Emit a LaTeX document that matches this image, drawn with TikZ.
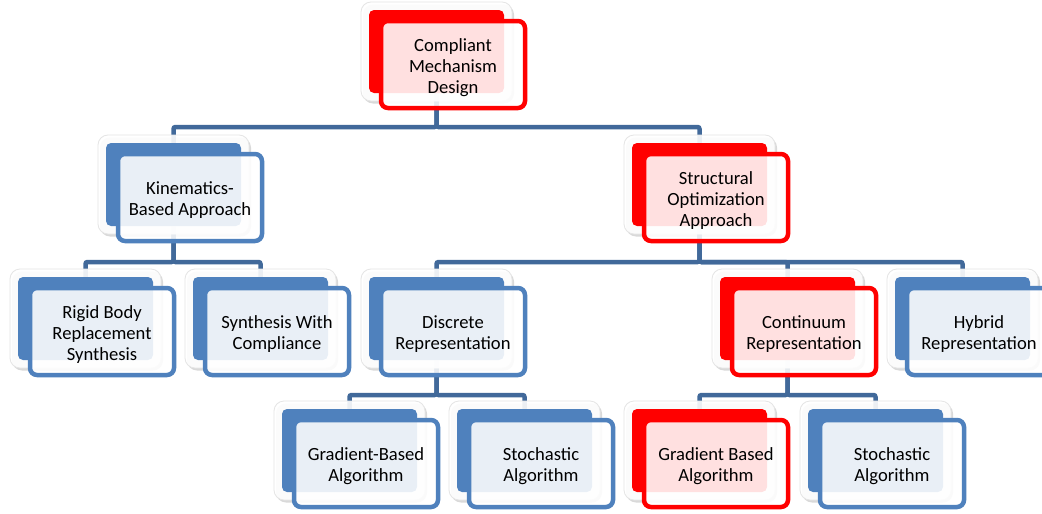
\documentclass[tikz,border=0pt]{standalone}
\usepackage{fontspec}
\setmainfont{Carlito}
\usetikzlibrary{shadows,calc}
\definecolor{cblue}{HTML}{4F81BD}
\definecolor{cred}{HTML}{FF0000}
\definecolor{cline}{HTML}{41699A}
\pgfdeclarelayer{bgfill}\pgfdeclarelayer{bg}\pgfsetlayers{bgfill,bg,main}
\tikzset{
 shadowbox/.style={fill=white, fill opacity=0.9, draw=black!10, line width=0.8pt, rounded corners=10pt, drop shadow={shadow xshift=2pt, shadow yshift=-2.5pt, opacity=0.15, fill=black}},
 backbox/.style={rectangle, rounded corners=5pt, minimum width=135pt, minimum height=83pt, inner sep=0pt},
 frontbox/.style={rectangle, rounded corners=7pt, line width=4.5pt, minimum width=144pt, minimum height=87pt, inner sep=0pt, fill=white, fill opacity=0.88},
 textbox/.style={align=center, inner sep=0pt, font=\fontsize{18.6}{21}\selectfont},
 conn/.style={draw=cline, line width=4.5pt, rounded corners=2pt},
}
\newcommand\chartnode[5]{%
 \path[shadowbox] ({#2-8},{#3-8}) rectangle ({#2+143},{#3+91});
 \node[backbox, fill=#4] (#1b) at ({#2+67.5},{#3+41.5}) {};
 \node[frontbox, draw=#4] (#1) at ({#2+84},{#3+54.5}) {};
 \node[textbox] (#1t) at ([yshift=-3pt]#1.center) {#5};
}
\begin{document}
\begin{tikzpicture}[x=1pt,y=-1pt]
\useasboundingbox (0,0) rectangle (1042,514);
\clip (0,0) rectangle (1042,514);
\begin{pgfonlayer}{bgfill}
\fill[white] (0,0) rectangle (1042,514);
\end{pgfonlayer}
\coordinate (bar0) at (0,127);
\coordinate (bar1) at (0,262);
\coordinate (bar2) at (0,395);

\chartnode{root}{369}{10}{cred}{Compliant\\Mechanism\\Design}
\chartnode{kin}{106}{143}{cblue}{Kinematics-\\Based Approach}
\chartnode{struct}{632}{143}{cred}{Structural\\Optimization\\Approach}
\chartnode{rigid}{18}{277}{cblue}{Rigid Body\\Replacement\\Synthesis}
\chartnode{synth}{193}{277}{cblue}{Synthesis With\\Compliance}
\chartnode{disc}{369}{277}{cblue}{Discrete\\Representation}
\chartnode{cont}{720}{277}{cred}{Continuum\\Representation}
\chartnode{hyb}{895}{277}{cblue}{Hybrid\\Representation}
\chartnode{gradb}{282}{409}{cblue}{Gradient-Based\\Algorithm}
\chartnode{stocha}{457}{409}{cblue}{Stochastic\\Algorithm}
\chartnode{gradr}{632}{409}{cred}{Gradient Based\\Algorithm}
\chartnode{stochb}{808}{409}{cblue}{Stochastic\\Algorithm}

\begin{pgfonlayer}{bg}
\draw[conn] (rootb.south) -- (rootb.south |- bar0) -| (kinb.north);
\draw[conn] (rootb.south) -- (rootb.south |- bar0) -| (structb.north);
\draw[conn] (kinb.south) -- (kinb.south |- bar1) -| (rigidb.north);
\draw[conn] (kinb.south) -- (kinb.south |- bar1) -| (synthb.north);
\draw[conn] (structb.south) -- (structb.south |- bar1) -| (discb.north);
\draw[conn] (structb.south) -- (structb.south |- bar1) -| (contb.north);
\draw[conn] (structb.south) -- (structb.south |- bar1) -| (hybb.north);
\draw[conn] (discb.south) -- (discb.south |- bar2) -| (gradbb.north);
\draw[conn] (discb.south) -- (discb.south |- bar2) -| (stochab.north);
\draw[conn] (contb.south) -- (contb.south |- bar2) -| (gradrb.north);
\draw[conn] (contb.south) -- (contb.south |- bar2) -| (stochbb.north);
\end{pgfonlayer}
\end{tikzpicture}
\end{document}
